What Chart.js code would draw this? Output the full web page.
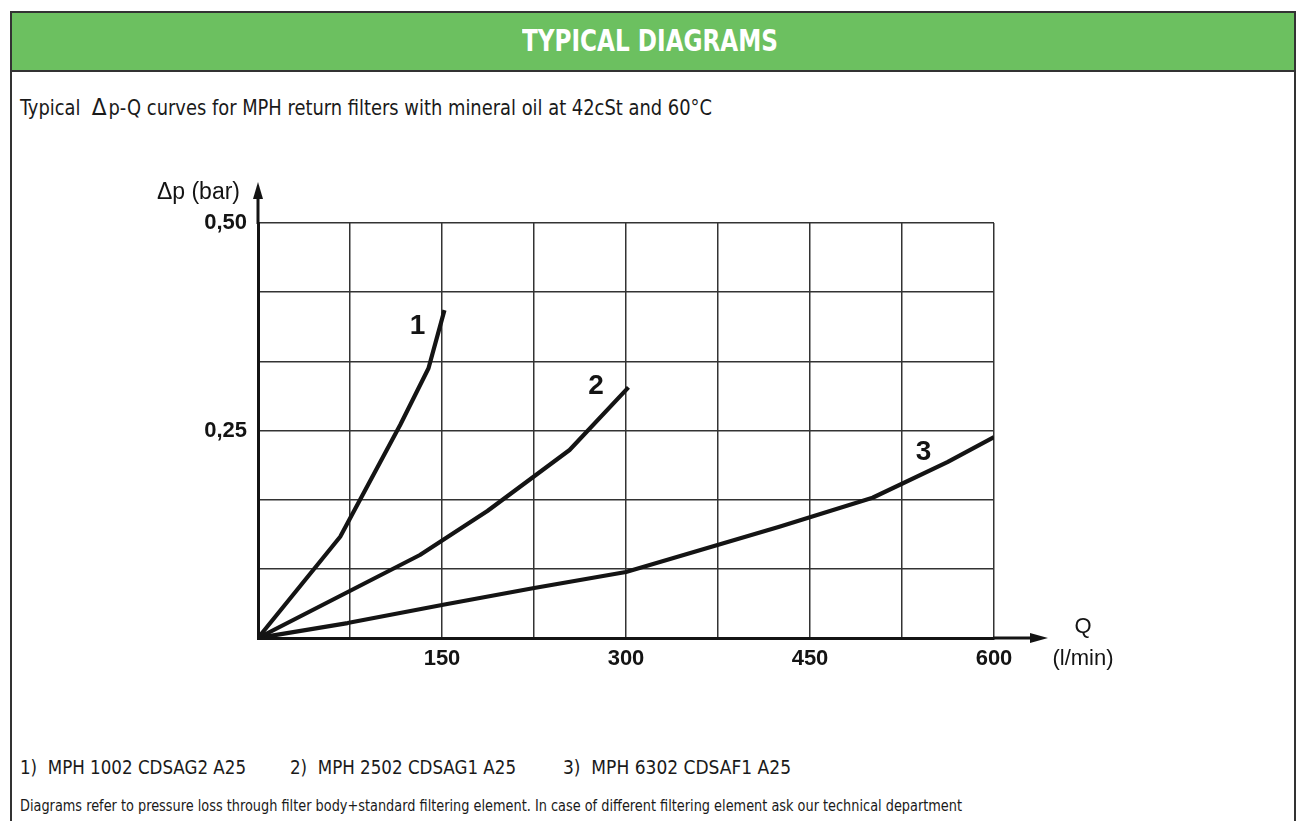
<!DOCTYPE html>
<html><head><meta charset="utf-8">
<script src="https://cdn.jsdelivr.net/npm/chart.js@4"></script>
<style>
html,body{margin:0;padding:0;background:#fff;width:1297px;height:821px;overflow:hidden;position:relative;}
#frame{position:absolute;left:10px;top:11px;width:1286px;height:840px;border:2px solid #333;border-bottom:none;box-sizing:border-box;}
#head{position:absolute;left:10px;top:11px;width:1286px;height:61px;background:#6cc060;border:2px solid #333;box-sizing:border-box;}
.t{position:absolute;white-space:nowrap;font-family:"DejaVu Sans Condensed","DejaVu Sans",sans-serif;color:#1a1a1a;transform-origin:0 50%;line-height:1;}
canvas{position:absolute;left:0;top:0;}
</style></head>
<body>
<div id="frame"></div>
<div id="head"></div>
<div class="t" id="title" style="font-weight:bold;color:#fff;font-size:30px;top:26px;" data-l="522" data-w="256">TYPICAL DIAGRAMS</div>
<div class="t" id="sub" style="font-size:21px;top:96px;" data-l="20" data-w="692">Typical &nbsp;<span style="font-family:'DejaVu Sans';font-size:23px;">&Delta;</span>&#8202;p-Q curves for MPH return filters with mineral oil at 42cSt and 60&deg;C</div>
<div class="t" id="f1" style="font-size:19px;top:758px;" data-l="20" data-w="226">1) &nbsp;MPH 1002 CDSAG2 A25</div>
<div class="t" id="f2" style="font-size:19px;top:758px;" data-l="290" data-w="226">2) &nbsp;MPH 2502 CDSAG1 A25</div>
<div class="t" id="f3" style="font-size:19px;top:758px;" data-l="563" data-w="228">3) &nbsp;MPH 6302 CDSAF1 A25</div>
<div class="t" id="note" style="font-size:15px;top:799px;" data-l="20" data-w="942">Diagrams refer to pressure loss through filter body+standard filtering element. In case of different filtering element ask our technical department</div>
<canvas id="c" width="1297" height="821"></canvas>
<script>
// ---- data ----
const curve1Q = [0, 67, 116, 139, 152];
const curve1P = [0, 0.122, 0.257, 0.325, 0.395];
const curve2Q = [0, 132, 187, 254, 302];
const curve2P = [0, 0.100, 0.153, 0.2265, 0.302];
const curve3Q = [0, 73, 151, 224, 300, 425, 501, 562, 600];
const curve3P = [0, 0.018, 0.040, 0.060, 0.0795, 0.134, 0.169, 0.212, 0.242];
const curveNames = ['1', '2', '3'];
const curveLabelQ = [130, 275.5, 542.5];
const curveLabelP = [0.375, 0.3035, 0.2235];
const xGrid = [0, 75, 150, 225, 300, 375, 450, 525, 600];
const xTickValues = [150, 300, 450, 600];
const xTickLabels = ['150', '300', '450', '600'];
const yGrid = [0, 0.5/6, 1/6, 0.25, 2/6, 2.5/6, 0.5];
const yTickValues = [0.25, 0.5];
const yTickLabels = ['0,25', '0,50'];
const yTitle = '\u0394p (bar)';
const xTitle1 = 'Q';
const xTitle2 = '(l/min)';

// ---- text fitting ----
document.querySelectorAll('.t').forEach(el => {
  el.style.left = el.dataset.l + 'px';
  const w = el.getBoundingClientRect().width;
  el.style.transform = 'scaleX(' + (+el.dataset.w / w) + ')';
});

const pts = (qs, ps) => qs.map((q, i) => ({x: q, y: ps[i]}));
const ink = '#141414';
const lineDs = (qs, ps) => ({data: pts(qs, ps), borderColor: ink, borderWidth: 4.2, pointRadius: 0, tension: 0, fill: false, borderJoinStyle: 'round', borderCapStyle: 'butt'});

const tickFont = {family: '"Liberation Sans", Arial, sans-serif', size: 22, weight: 'bold'};

const deco = {
  id: 'deco',
  afterDraw(chart) {
    const {ctx, chartArea: a, scales: {x, y}} = chart;
    const x0 = x.getPixelForValue(0), y0 = y.getPixelForValue(0);
    ctx.save();
    ctx.strokeStyle = ink; ctx.fillStyle = ink; ctx.lineWidth = 3;
    ctx.beginPath(); ctx.moveTo(x0, a.top + 1); ctx.lineTo(x0, a.top - 28); ctx.stroke();
    ctx.beginPath(); ctx.moveTo(x0, a.top - 41); ctx.lineTo(x0 - 5, a.top - 24); ctx.lineTo(x0 + 5, a.top - 24); ctx.closePath(); ctx.fill();
    ctx.beginPath(); ctx.moveTo(a.right - 1, y0); ctx.lineTo(a.right + 40, y0); ctx.stroke();
    ctx.beginPath(); ctx.moveTo(a.right + 54, y0); ctx.lineTo(a.right + 36, y0 - 5); ctx.lineTo(a.right + 36, y0 + 5); ctx.closePath(); ctx.fill();
    ctx.font = '23px "Liberation Sans", Arial, sans-serif';
    ctx.textBaseline = 'middle';
    ctx.textAlign = 'right';
    ctx.fillText(yTitle, x0 - 18, a.top - 30);
    ctx.textAlign = 'center';
    ctx.font = '22px "Liberation Sans", Arial, sans-serif';
    ctx.fillText(xTitle1, a.right + 89, y0 - 11);
    ctx.fillText(xTitle2, a.right + 89, y0 + 21);
    ctx.font = 'bold 28px "Liberation Sans", Arial, sans-serif';
    curveNames.forEach((n, i) => {
      ctx.fillText(n, x.getPixelForValue(curveLabelQ[i]), y.getPixelForValue(curveLabelP[i]));
    });
    ctx.restore();
  }
};

new Chart(document.getElementById('c'), {
  type: 'line',
  data: {datasets: [lineDs(curve1Q, curve1P), lineDs(curve2Q, curve2P), lineDs(curve3Q, curve3P)]},
  options: {
    responsive: false, animation: false, devicePixelRatio: 1,
    layout: {padding: {left: 158, top: 223, right: 303, bottom: 123}},
    plugins: {legend: {display: false}, tooltip: {enabled: false}},
    scales: {
      x: {
        type: 'linear', min: 0, max: 600,
        afterBuildTicks: s => { s.ticks = xGrid.map(v => ({value: v})); },
        afterFit: s => { s.height = 60; },
        grid: {color: '#333333', lineWidth: 1.5, drawTicks: false},
        border: {color: ink, width: 3},
        ticks: {padding: 8, autoSkip: false, maxRotation: 0, color: ink, font: tickFont,
          callback: v => { const i = xTickValues.indexOf(v); return i >= 0 ? xTickLabels[i] : ''; }}
      },
      y: {
        type: 'linear', min: 0, max: 0.5,
        afterBuildTicks: s => { s.ticks = yGrid.map(v => ({value: v})); },
        afterFit: s => { s.width = 100; },
        grid: {color: '#333333', lineWidth: 1.5, drawTicks: false},
        border: {color: ink, width: 3},
        ticks: {padding: 11, autoSkip: false, color: ink, font: tickFont,
          callback: v => { const i = yTickValues.findIndex(t => Math.abs(t - v) < 1e-6); return i >= 0 ? yTickLabels[i] : ''; }}
      }
    }
  },
  plugins: [deco]
});
</script>
</body></html>
